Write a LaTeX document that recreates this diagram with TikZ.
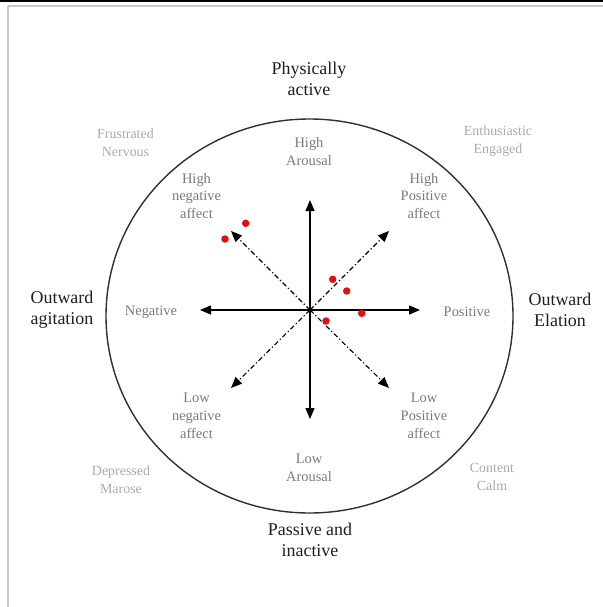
\documentclass[tikz,border=0pt]{standalone}
\usepackage{fontspec}
\setmainfont{Liberation Serif}
\usetikzlibrary{arrows.meta}
\definecolor{ink}{HTML}{1E1E1E}
\definecolor{ringgray}{HTML}{303030}
\definecolor{midgray}{HTML}{7A7A7A}
\definecolor{moodgray}{HTML}{AAAAAA}
\definecolor{framegray}{HTML}{C8C8C8}
\definecolor{dotred}{HTML}{E01010}

\begin{document}
\begin{tikzpicture}[x=1bp,y=-1bp,
  pole/.style={align=center,text=ink,inner sep=0pt,font=\fontsize{18}{21.5}\selectfont},
  axislabel/.style={align=center,text=midgray,inner sep=0pt,font=\fontsize{14.5}{18}\selectfont},
  mood/.style={align=center,text=moodgray,inner sep=0pt,font=\fontsize{14}{18.5}\selectfont},
  axis/.style={draw=black,line width=1.3bp,-{Triangle[length=11bp,width=9bp]}},
  diag/.style={draw=black,line width=1.1bp,dash pattern=on 5bp off 2.5bp on 1.2bp off 2.5bp,-{Triangle[length=11bp,width=9bp]}},
  sample/.style={circle,fill=dotred,inner sep=0pt,minimum size=7.5bp}]

\useasboundingbox (0,0) rectangle (603,607);

% page frame
\draw[black,line width=1.6bp] (0,0.8) -- (603,0.8);
\draw[framegray,line width=2bp] (8.3,5.7) -- (603,5.7);
\draw[framegray,line width=2bp] (8.3,5.7) -- (8.3,607);

% outer ring
\draw[ringgray,line width=1.4bp] (309.5,316) ellipse [x radius=203.5,y radius=197];

% centre and axis ends
\coordinate (o) at (310,310);
\coordinate (up) at (310,200);
\coordinate (down) at (310,419);
\coordinate (left) at (200,310);
\coordinate (right) at (420,310);
\coordinate (ul) at (231,231);
\coordinate (ur) at (389,231);
\coordinate (ll) at (231,388);
\coordinate (lr) at (389,388);

\draw[axis] (o) -- (up);
\draw[axis] (o) -- (down);
\draw[axis] (o) -- (left);
\draw[axis] (o) -- (right);
\draw[diag] (o) -- (ul);
\draw[diag] (o) -- (ur);
\draw[diag] (o) -- (ll);
\draw[diag] (o) -- (lr);
\fill[black] (o) circle (1.8bp);

% observations
\node[sample] (s1) at (225,239) {};
\node[sample] (s2) at (245.7,223.3) {};
\node[sample] (s3) at (332.7,279.3) {};
\node[sample] (s4) at (346.7,291) {};
\node[sample] (s5) at (361.7,313.3) {};
\node[sample] (s6) at (326,321) {};

% poles outside the ring
\node[pole] (active) at (309,79) {Physically\\active};
\node[pole] (passive) at (310,540) {Passive and\\inactive};
\node[pole] (agitation) at (62,310) {Outward\\agitation};
\node[pole] (elation) at (560,310) {Outward\\Elation};

% axis labels inside the ring
\node[axislabel] (higharousal) at (309,152) {High\\Arousal};
\node[axislabel] (lowarousal) at (309,468) {Low\\Arousal};
\node[axislabel] (negative) at (151,312) {Negative};
\node[axislabel] (positive) at (467,312) {Positive};
\node[axislabel] (hna) at (196.5,196) {High\\negative\\affect};
\node[axislabel] (hpa) at (424,196) {High\\Positive\\affect};
\node[axislabel] (lna) at (196.5,415.5) {Low\\negative\\affect};
\node[axislabel] (lpa) at (424,415.5) {Low\\Positive\\affect};

% moods in the corners
\node[mood] (frustrated) at (125.5,143) {Frustrated\\Nervous};
\node[mood] (enthusiastic) at (498,141) {Enthusiastic\\Engaged};
\node[mood] (depressed) at (121,480) {Depressed\\Marose};
\node[mood] (content) at (492,477) {Content\\Calm};
\end{tikzpicture}
\end{document}
